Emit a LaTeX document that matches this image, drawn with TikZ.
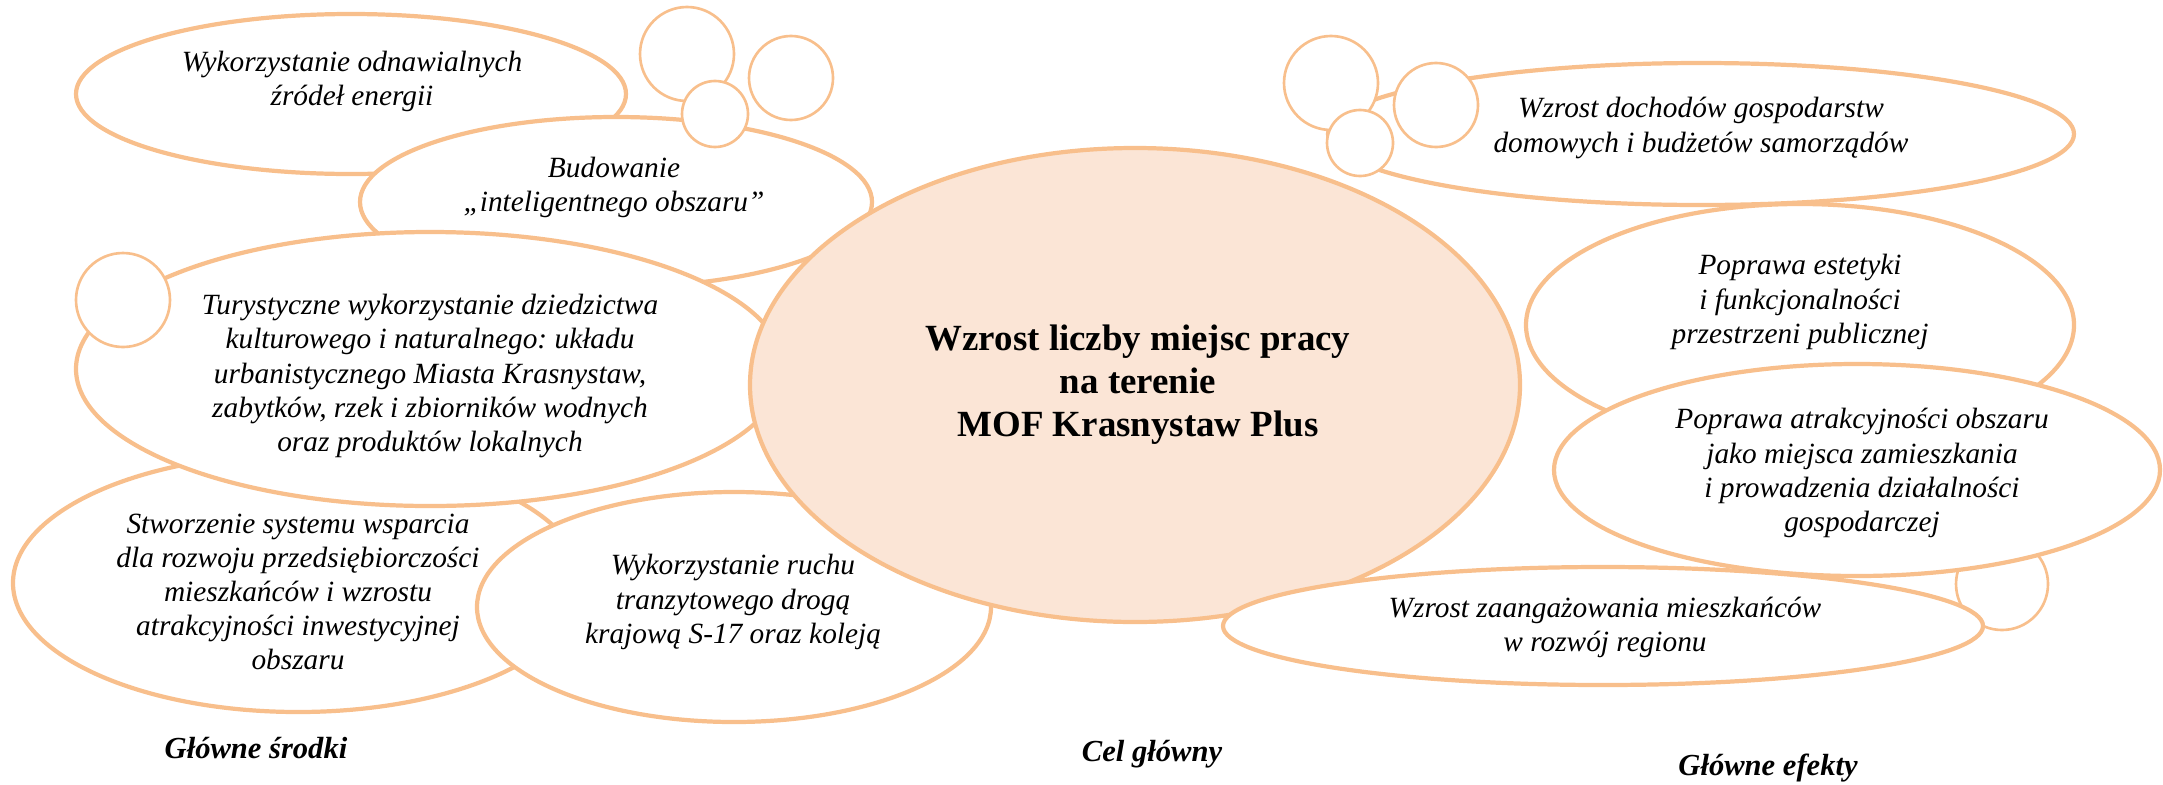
\documentclass[tikz,border=0pt]{standalone}
\usepackage{fontspec}
\setmainfont{Liberation Serif}
\frenchspacing
\definecolor{brzeg}{HTML}{F8BF8C}
\definecolor{srodek}{HTML}{FBE5D6}
\begin{document}
\begin{tikzpicture}[x=0.1mm,y=-0.1mm,
    chmura/.style={draw=brzeg,line width=1.2pt,fill=white},
    kolko/.style={draw=brzeg,line width=0.75pt,fill=white},
    opis/.style={align=center,inner sep=0pt,font=\fontsize{8.35}{9.7}\selectfont\itshape},
    podpis/.style={inner sep=0pt,font=\fontsize{8.7}{10}\selectfont\bfseries\itshape}]
  \useasboundingbox (0,0) rectangle (2163,784);
  % lewa strona: glowne srodki
  \draw[chmura] (351,94) ellipse (275 and 80);      % odnawialne
  \node[opis] (odnawialne) at (352,81) {Wykorzystanie odnawialnych\\źródeł energii};
  \draw[kolko] (687,54) circle (47);                % kolko gorne
  \draw[kolko] (791,78) circle (42);                % kolko prawe
  \draw[chmura] (616,202) ellipse (256 and 85);     % inteligentny obszar
  \node[opis] (budowanie) at (614,187) {Budowanie\\„inteligentnego obszaru”};
  \draw[kolko] (715,114) circle (33);               % kolko dolne
  \draw[chmura] (298,583) ellipse (285 and 129);    % wsparcie
  \node[opis] (wsparcie) at (298,592) {Stworzenie systemu wsparcia\\dla rozwoju przedsiębiorczości\\mieszkańców i wzrostu\\atrakcyjności inwestycyjnej\\obszaru};
  \draw[chmura] (430,369) ellipse (354 and 137);    % turystyka
  \node[opis] (turystyka) at (430,376) {Turystyczne wykorzystanie dziedzictwa\\kulturowego i naturalnego: układu\\urbanistycznego Miasta Krasnystaw,\\zabytków, rzek i zbiorników wodnych\\oraz produktów lokalnych};
  \draw[kolko] (123,300) circle (47);               % kolko z lewej
  \draw[chmura] (734,607) ellipse (257 and 115);    % ruch tranzytowy
  \node[opis] (ruch) at (733,602) {Wykorzystanie ruchu\\tranzytowego drogą\\krajową S-17 oraz koleją};
  % cel glowny
  \draw[chmura,fill=srodek] (1135,385) ellipse (385 and 237);
  \node[align=center,inner sep=0pt,font=\fontsize{10.5}{12.2}\selectfont\bfseries] (cel) at (1138,385)
    {Wzrost liczby miejsc pracy\\na terenie\\MOF Krasnystaw Plus};
  % prawa strona: glowne efekty
  \draw[chmura] (1701,134) ellipse (373 and 71);    % dochody
  \node[opis] (dochody) at (1701,128) {Wzrost dochodów gospodarstw\\domowych i budżetów samorządów};
  \draw[kolko] (1331,83) circle (47);
  \draw[kolko] (1436,105) circle (42);
  \draw[kolko] (1360,143) circle (33);
  \draw[chmura] (1800,325) ellipse (274 and 121);   % estetyka
  \node[opis] (estetyka) at (1800,302) {Poprawa estetyki\\i funkcjonalności\\przestrzeni publicznej};
  \draw[kolko] (2002,584) circle (46);              % kolko pod spodem
  \draw[chmura] (1857,470) ellipse (303 and 106);   % atrakcyjnosc
  \node[opis] (atrakcyjnosc) at (1862,473) {Poprawa atrakcyjności obszaru\\jako miejsca zamieszkania\\i prowadzenia działalności\\gospodarczej};
  \draw[chmura] (1603,626) ellipse (380 and 59);    % zaangazowanie
  \node[opis] (zaangazowanie) at (1605,627) {Wzrost zaangażowania mieszkańców\\w rozwój regionu};
  % podpisy
  \node[podpis] (srodki) at (256,748) {Główne środki};
  \node[podpis] (celpodpis) at (1152,754) {Cel główny};
  \node[podpis] (efekty) at (1768,768) {Główne efekty};
\end{tikzpicture}
\end{document}
